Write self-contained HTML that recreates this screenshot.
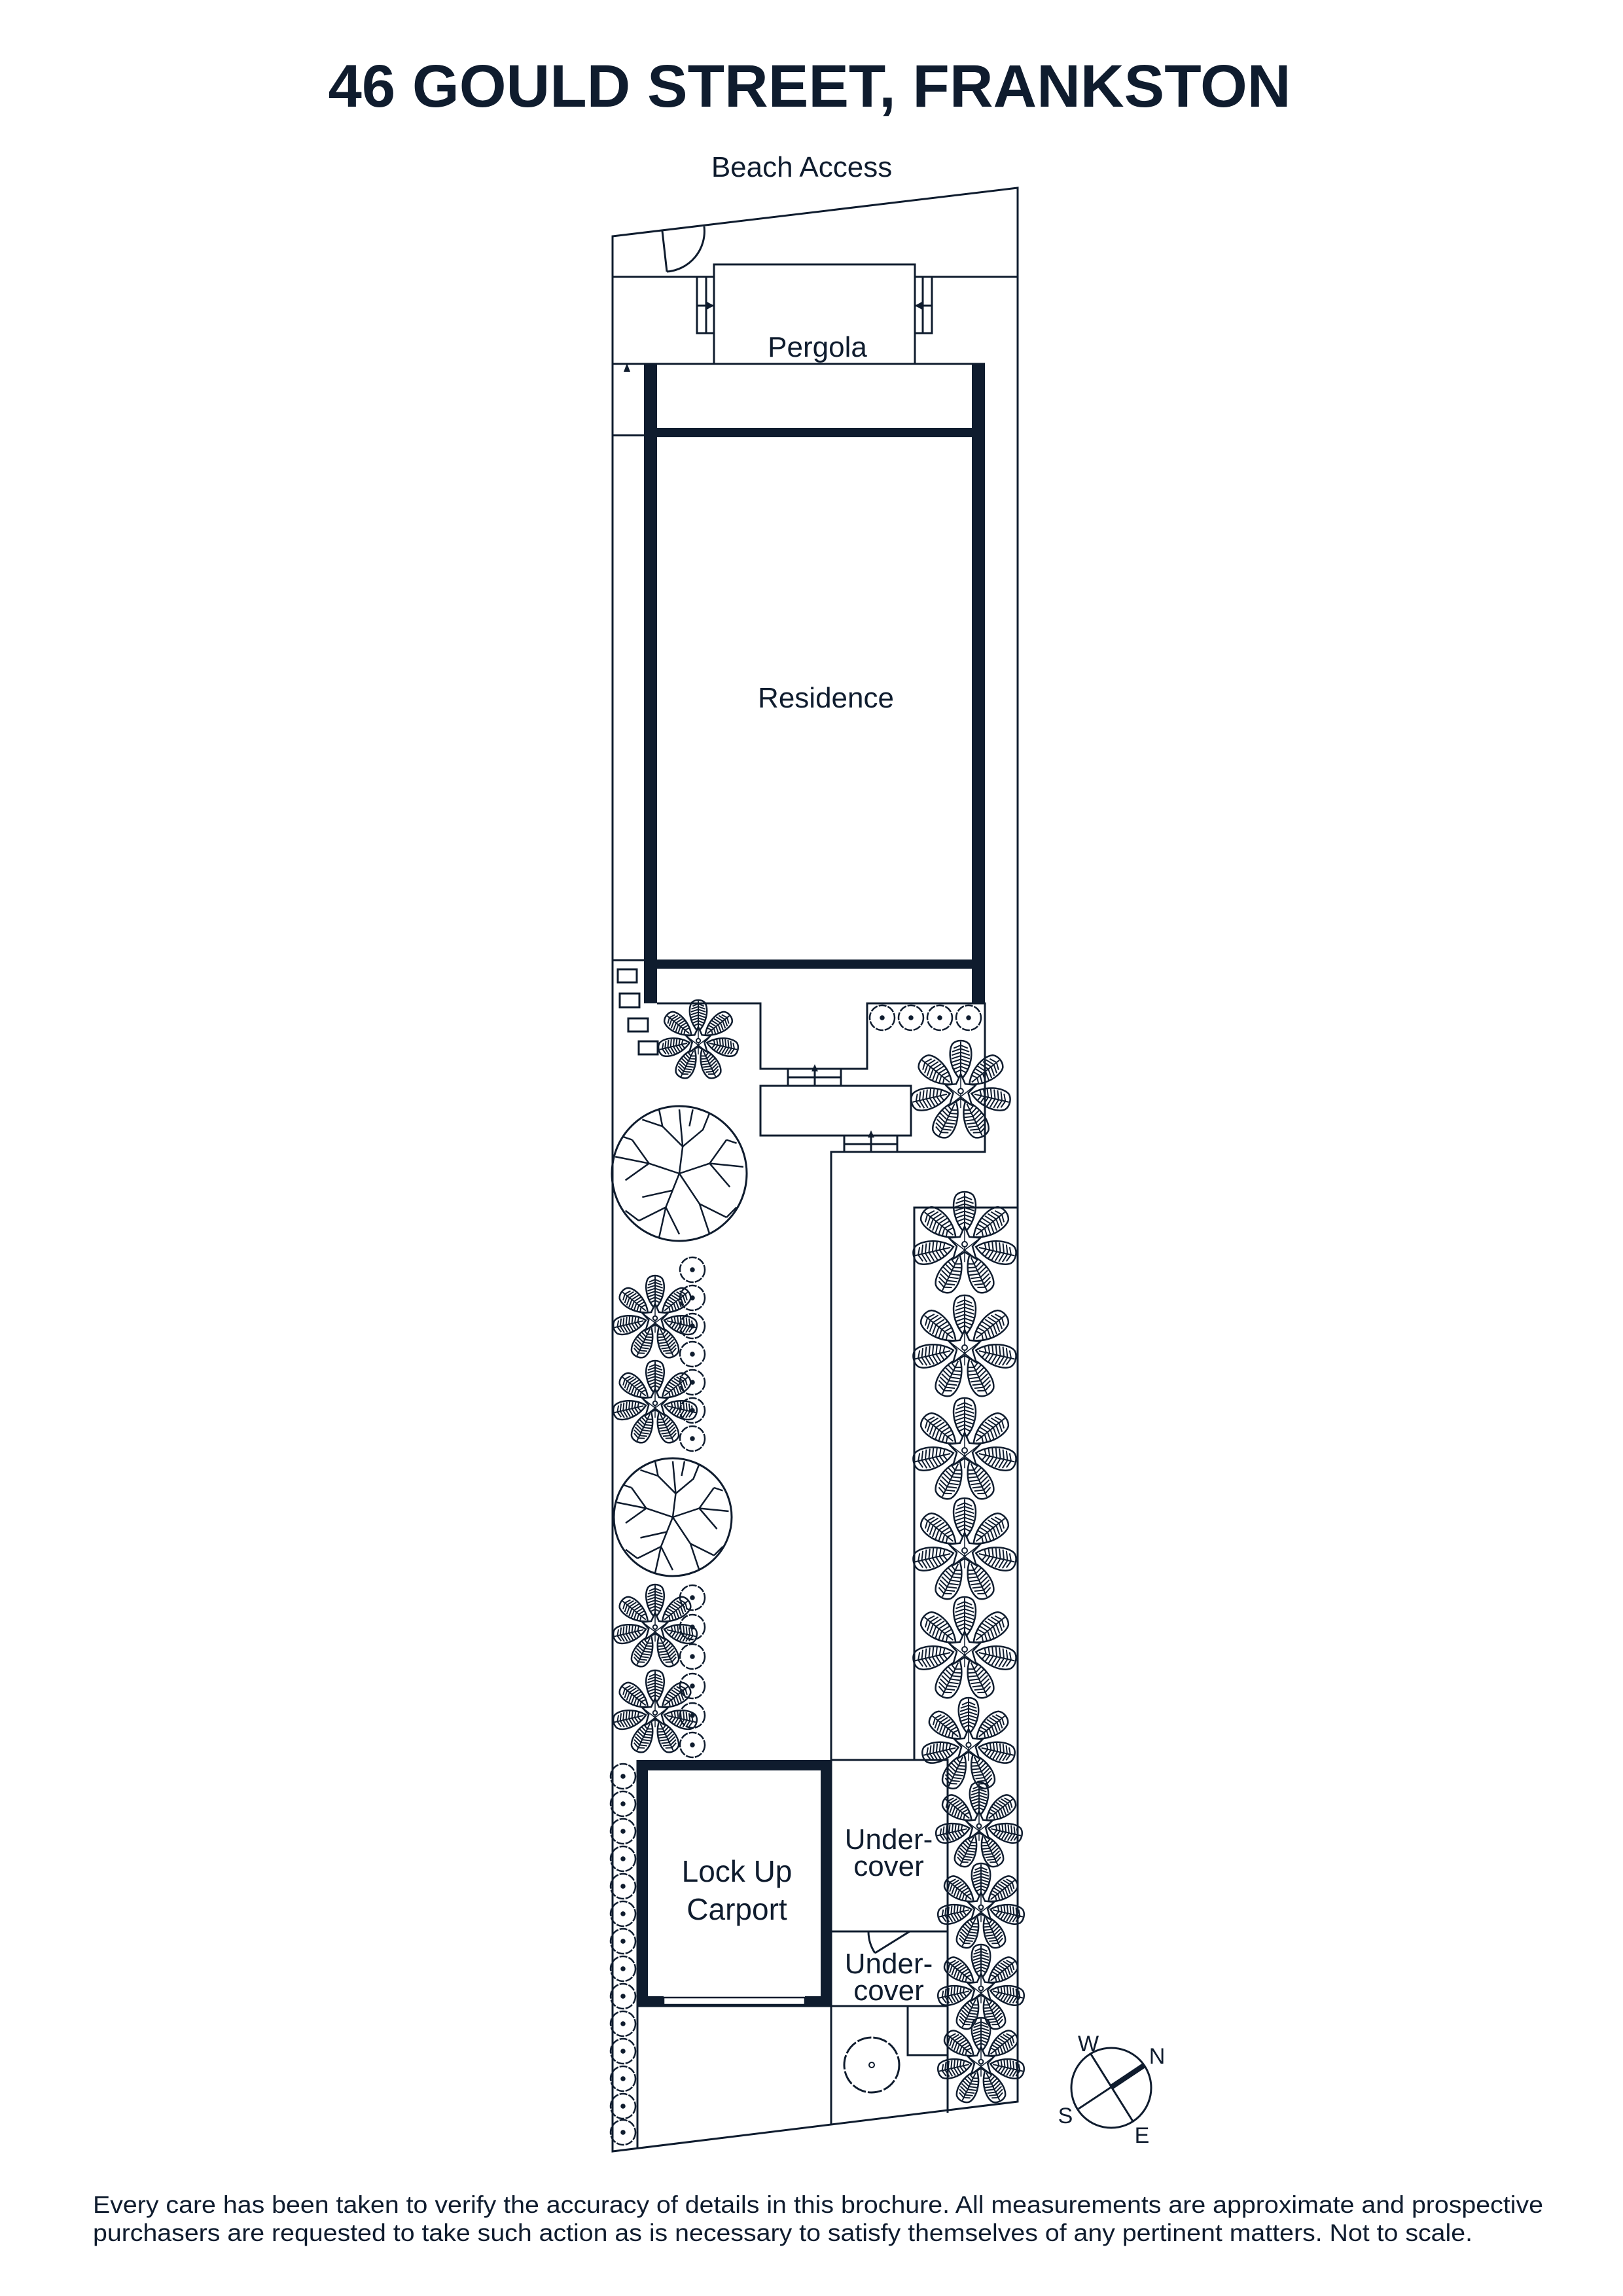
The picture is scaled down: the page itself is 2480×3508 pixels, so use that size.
<!DOCTYPE html>
<html><head><meta charset="utf-8"><style>
html,body{margin:0;padding:0;background:#fff}
svg{display:block}
text{font-family:"Liberation Sans",sans-serif;fill:#0f1c2e}
</style></head><body>
<svg width="2480" height="3508" viewBox="0 0 2480 3508" xmlns="http://www.w3.org/2000/svg">
<defs>
<g id="leaf" fill="none" stroke="#0f1c2e">
<path vector-effect="non-scaling-stroke" stroke-width="2.5" d="M0 -22C-22 -45 -26 -80 -16 -94C-8 -102 8 -102 16 -94C26 -80 22 -45 0 -22Z"/>
<path vector-effect="non-scaling-stroke" stroke-width="2" d="M0 -28V-98 M-12 -36L0 -42L12 -36 M-15 -43L0 -49L15 -43 M-17 -50L0 -56L17 -50 M-18 -57L0 -63L18 -57 M-18 -64L0 -70L18 -64 M-18 -71L0 -77L18 -71 M-17 -78L0 -84L17 -78 M-14 -85L0 -91L14 -85"/>
</g>
<g id="palm">
<use href="#leaf"/><use href="#leaf" transform="rotate(51.4)"/><use href="#leaf" transform="rotate(102.9)"/><use href="#leaf" transform="rotate(154.3)"/><use href="#leaf" transform="rotate(205.7)"/><use href="#leaf" transform="rotate(257.1)"/><use href="#leaf" transform="rotate(308.6)"/>
<polygon points="0,-34 9,-14 30,-12 15,4 22,28 0,15 -22,28 -15,4 -30,-12 -9,-14" fill="#fff" stroke="#0f1c2e" vector-effect="non-scaling-stroke" stroke-width="2.5"/>
<path d="M0 -34V34 M-30 -12L22 28 M30 -12L-22 28" fill="none" stroke="#0f1c2e" vector-effect="non-scaling-stroke" stroke-width="1.5"/>
<circle r="5" fill="#fff" stroke="#0f1c2e" vector-effect="non-scaling-stroke" stroke-width="2"/>
</g>
<g id="tree" fill="none" stroke="#0f1c2e">
<circle r="100" vector-effect="non-scaling-stroke" stroke-width="3"/>
<path vector-effect="non-scaling-stroke" stroke-width="2.5" d="M0 0L5 -40L0 -95 M5 -40L-25 -70L-30 -95 M5 -40L35 -65L45 -90 M0 0L-45 -15L-95 -25 M-45 -15L-70 -50 M-45 -15L-80 10 M0 0L45 -15L95 -10 M45 -15L70 -50 M45 -15L75 20 M0 0L-20 50L-30 95 M-20 50L-60 70 M-20 50L0 90 M0 0L30 45L45 90 M30 45L70 65 M-10 25L-55 35 M15 -70L20 -95 M-25 -70L-55 -80 M-70 -50L-85 -55 M70 -50L85 -45 M-60 70L-80 55 M70 65L85 50"/>
</g>
<g id="shrub" fill="none" stroke="#0f1c2e" stroke-width="2.5">
<circle r="19" stroke-dasharray="12 2"/>
<circle r="2.5" fill="#0f1c2e"/>
</g>
</defs>

<text x="1237" y="163" font-size="92" font-weight="bold" text-anchor="middle" textLength="1471" lengthAdjust="spacingAndGlyphs">46 GOULD STREET, FRANKSTON</text>
<text x="1225" y="270" font-size="44" text-anchor="middle">Beach Access</text>

<g fill="none" stroke="#0f1c2e" stroke-width="3">
<polygon points="936,361 1555,287 1555,3211 936,3287"/>
<path d="M936 423H1091 M1398 423H1555"/>
<rect x="1091" y="404" width="307" height="152"/>
<path d="M1065 423V509H1091 M1079 423V509 M1065 467H1091"/>
<path d="M1424 423V509H1398 M1410 423V509 M1424 467H1398"/>
<path d="M936 556H1091 M1398 556H1505"/>
<path d="M1019 415L1012 353 M1076 346A62 62 0 0 1 1019 415"/>
<path d="M936 665H984 M936 1467H984"/>
</g>
<polygon points="1091,467 1080,461 1080,473" fill="#0f1c2e"/>
<polygon points="1398,467 1409,461 1409,473" fill="#0f1c2e"/>
<polygon points="958,555 953,568 963,568" fill="#0f1c2e"/>

<g fill="#0f1c2e">
<rect x="984" y="556" width="20" height="977"/>
<rect x="1485" y="556" width="20" height="977"/>
<rect x="984" y="654" width="521" height="14"/>
<rect x="984" y="1466" width="521" height="14"/>
</g>
<text x="1262" y="1081" font-size="44" text-anchor="middle">Residence</text>
<text x="1249" y="545" font-size="44" text-anchor="middle">Pergola</text>

<g fill="none" stroke="#0f1c2e" stroke-width="3">
<path d="M1004 1533H1162V1633H1325V1533H1505V1760H1270V3247"/>
<rect x="944" y="1481" width="29" height="20"/>
<rect x="947" y="1518" width="30" height="21"/>
<rect x="960" y="1556" width="30" height="20"/>
<rect x="976" y="1591" width="29" height="20"/>
<path d="M1204 1634V1658 M1285 1634V1658 M1204 1646H1285 M1245 1634V1658"/>
<rect x="1162" y="1659" width="230" height="76"/>
<path d="M1290 1735V1760 M1371 1735V1760 M1290 1748H1371 M1331 1735V1760"/>
<path d="M1555 1845H1397V2689"/>
<rect x="1270" y="2689" width="178" height="376"/>
<path d="M1270 2951H1448 M1448 3065V3228 M1387 3065V3140H1448"/>
<path d="M1390 2951L1337 2984 M1327 2951A60 60 0 0 0 1337 2984"/>
<path d="M974 2689V3282 M974 3065H1270"/>
</g>
<polygon points="1245,1626 1240,1637 1250,1637" fill="#0f1c2e"/>
<polygon points="1331,1727 1326,1738 1336,1738" fill="#0f1c2e"/>

<g fill="#0f1c2e">
<rect x="974" y="2689" width="296" height="16"/>
<rect x="974" y="2689" width="16" height="376"/>
<rect x="1254" y="2689" width="16" height="376"/>
<rect x="974" y="3050" width="40" height="15"/>
<rect x="1230" y="3050" width="40" height="15"/>
</g>
<rect x="1014" y="3052" width="216" height="11" fill="none" stroke="#0f1c2e" stroke-width="2.5"/>
<text x="1126" y="2875" font-size="46" text-anchor="middle">Lock Up</text>
<text x="1126" y="2933" font-size="46" text-anchor="middle">Carport</text>
<text x="1358" y="2825" font-size="44" text-anchor="middle">Under-</text>
<text x="1358" y="2866" font-size="44" text-anchor="middle">cover</text>
<text x="1358" y="3015" font-size="44" text-anchor="middle">Under-</text>
<text x="1358" y="3056" font-size="44" text-anchor="middle">cover</text>

<use href="#shrub" x="1348" y="1555"/><use href="#shrub" x="1392" y="1555"/><use href="#shrub" x="1436" y="1555"/><use href="#shrub" x="1480" y="1555"/>
<use href="#shrub" x="1058" y="1940"/><use href="#shrub" x="1058" y="1983"/><use href="#shrub" x="1058" y="2026"/><use href="#shrub" x="1058" y="2069"/><use href="#shrub" x="1058" y="2112"/><use href="#shrub" x="1058" y="2155"/><use href="#shrub" x="1058" y="2198"/>
<use href="#shrub" x="1058" y="2441"/><use href="#shrub" x="1058" y="2486"/><use href="#shrub" x="1058" y="2531"/><use href="#shrub" x="1058" y="2576"/><use href="#shrub" x="1058" y="2621"/><use href="#shrub" x="1058" y="2666"/>
<use href="#shrub" x="952" y="2714"/><use href="#shrub" x="952" y="2756"/><use href="#shrub" x="952" y="2798"/><use href="#shrub" x="952" y="2840"/><use href="#shrub" x="952" y="2882"/><use href="#shrub" x="952" y="2924"/><use href="#shrub" x="952" y="2966"/><use href="#shrub" x="952" y="3008"/><use href="#shrub" x="952" y="3050"/><use href="#shrub" x="952" y="3092"/><use href="#shrub" x="952" y="3134"/><use href="#shrub" x="952" y="3176"/><use href="#shrub" x="952" y="3218"/><use href="#shrub" x="952" y="3258"/>
<g fill="none" stroke="#0f1c2e">
<circle cx="1332" cy="3155" r="42" stroke-width="3" stroke-dasharray="22 3"/>
<circle cx="1332" cy="3155" r="4" stroke-width="2"/>
</g>

<g transform="translate(1038,1793) scale(1.03)"><use href="#tree"/></g>
<g transform="translate(1028,2318) scale(0.9)"><use href="#tree"/></g>

<g transform="translate(1067,1590) scale(0.62)"><use href="#palm"/></g>
<g transform="translate(1468,1667) scale(0.77)"><use href="#palm"/></g>
<g transform="translate(1001,2014) scale(0.65)"><use href="#palm"/></g>
<g transform="translate(1001,2144) scale(0.65)"><use href="#palm"/></g>
<g transform="translate(1001,2486) scale(0.65)"><use href="#palm"/></g>
<g transform="translate(1001,2617) scale(0.65)"><use href="#palm"/></g>
<g transform="translate(1474,1901) scale(0.8)"><use href="#palm"/></g>
<g transform="translate(1474,2059) scale(0.8)"><use href="#palm"/></g>
<g transform="translate(1474,2216) scale(0.8)"><use href="#palm"/></g>
<g transform="translate(1474,2369) scale(0.8)"><use href="#palm"/></g>
<g transform="translate(1474,2520) scale(0.8)"><use href="#palm"/></g>
<g transform="translate(1480,2666) scale(0.72)"><use href="#palm"/></g>
<g transform="translate(1496,2790) scale(0.67)"><use href="#palm"/></g>
<g transform="translate(1499,2914) scale(0.67)"><use href="#palm"/></g>
<g transform="translate(1499,3038) scale(0.67)"><use href="#palm"/></g>
<g transform="translate(1499,3150) scale(0.67)"><use href="#palm"/></g>

<g fill="none" stroke="#0f1c2e">
<circle cx="1698" cy="3190" r="61" stroke-width="3"/>
<path d="M1666 3137L1731 3241 M1648 3222L1749 3155" stroke-width="3"/>
<path d="M1698 3189L1749 3155" stroke-width="8"/>
</g>
<text x="1663" y="3134" font-size="34" text-anchor="middle">W</text>
<text x="1768" y="3153" font-size="34" text-anchor="middle">N</text>
<text x="1628" y="3244" font-size="34" text-anchor="middle">S</text>
<text x="1745" y="3274" font-size="34" text-anchor="middle">E</text>

<text x="142" y="3381" font-size="37" textLength="2216" lengthAdjust="spacingAndGlyphs">Every care has been taken to verify the accuracy of details in this brochure. All measurements are approximate and prospective</text>
<text x="142" y="3424" font-size="37" textLength="2108" lengthAdjust="spacingAndGlyphs">purchasers are requested to take such action as is necessary to satisfy themselves of any pertinent matters. Not to scale.</text>
</svg>
</body></html>
